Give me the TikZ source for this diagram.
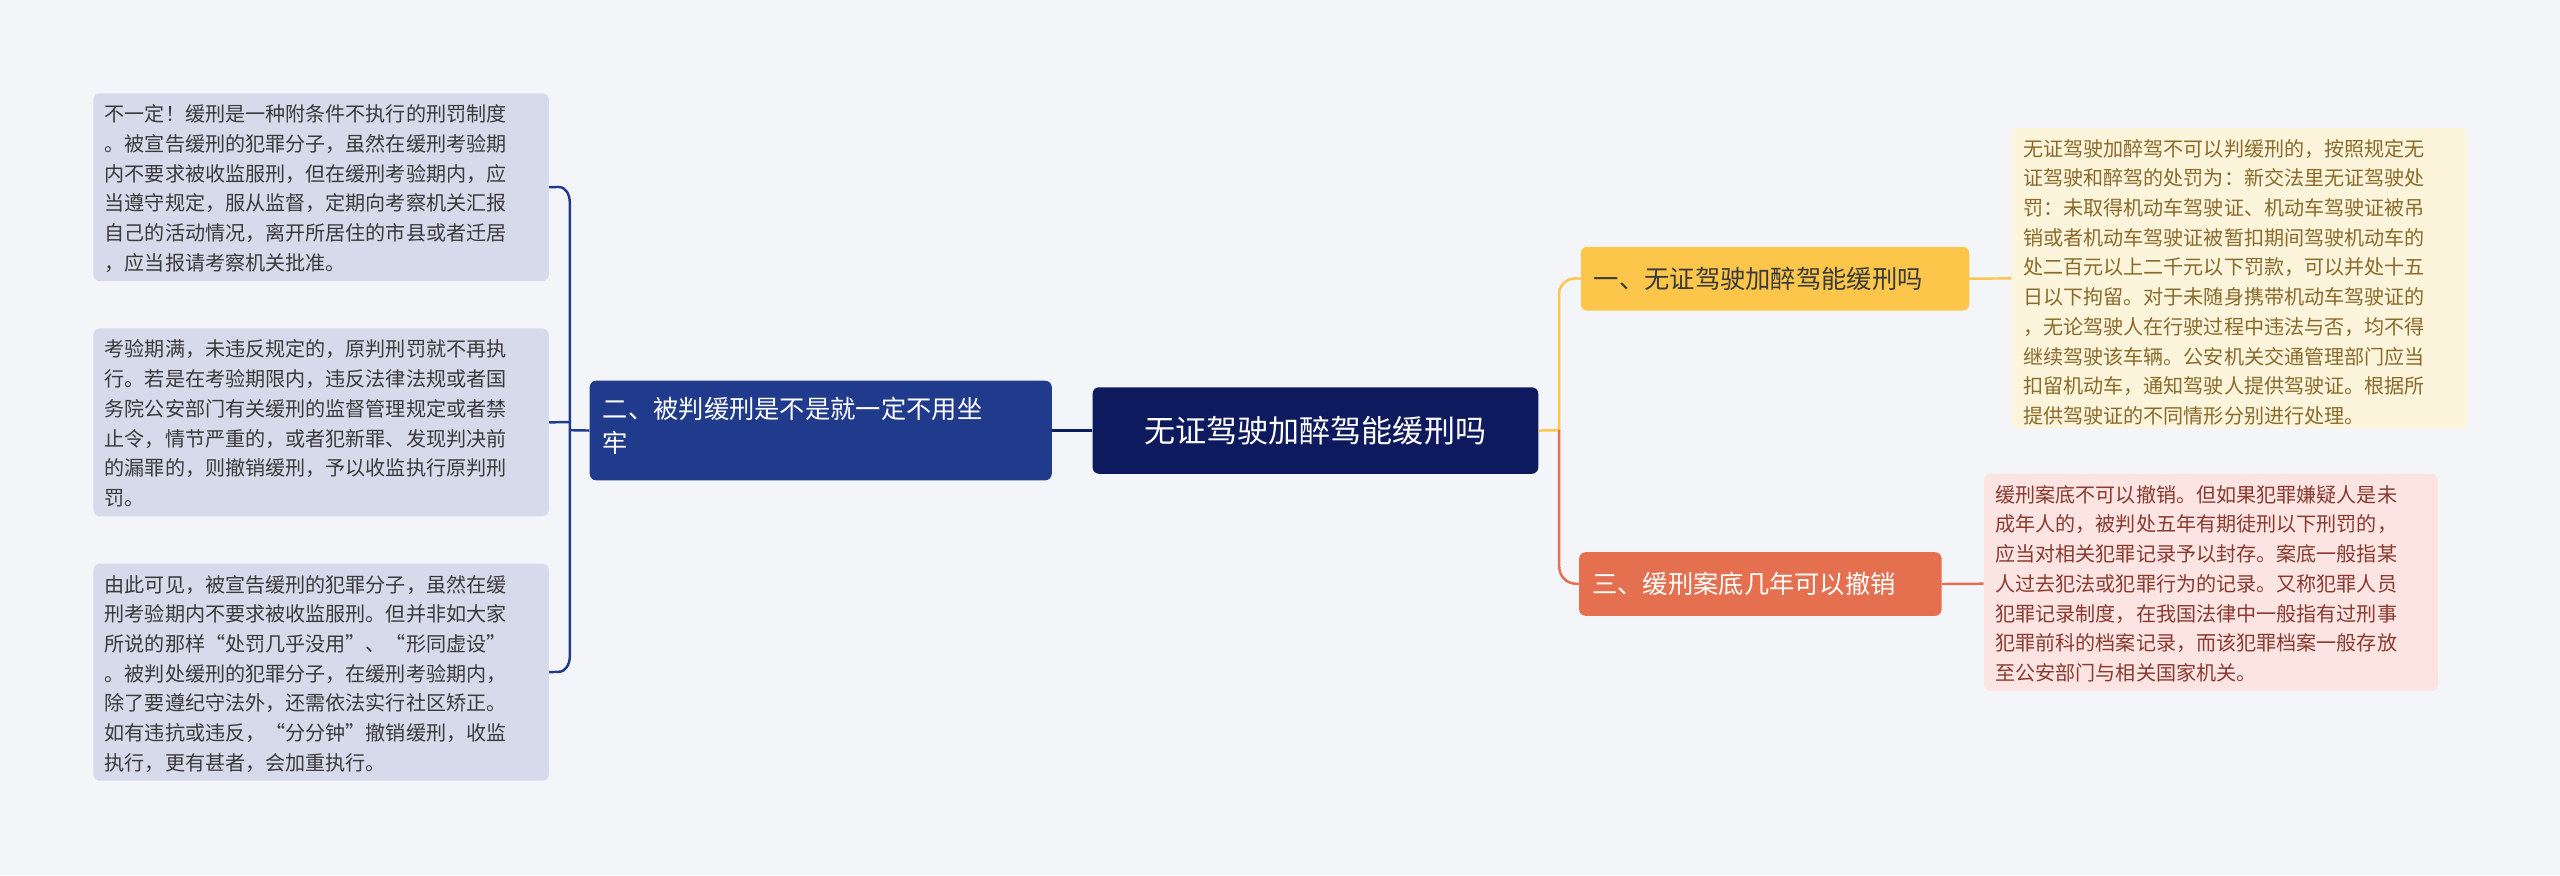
\documentclass[tikz,border=0pt]{standalone}
\usepackage{fontspec}
\setmainfont{Noto Sans CJK SC}
\begin{document}
\begin{tikzpicture}[x=1pt,y=-1pt,
  leaf/.style={rounded corners=4pt,anchor=north west,align=left,inner sep=0pt,font=\fontsize{12.3}{18.2}\selectfont},
  br/.style={rounded corners=4pt,anchor=north west,inner sep=0pt},
  con/.style={line width=1.5pt}]
\definecolor{bg}{HTML}{F4F5F9}
\definecolor{navy}{HTML}{0E1A5E}
\definecolor{blue2}{HTML}{213B8C}
\definecolor{lleaf}{HTML}{D6DAEB}
\definecolor{ltext}{HTML}{3A3A3A}
\definecolor{yel}{HTML}{FBC64A}
\definecolor{yleaf}{HTML}{FDF4DC}
\definecolor{ytext}{HTML}{8A6A2A}
\definecolor{red2}{HTML}{E4704F}
\definecolor{rleaf}{HTML}{FBE4E2}
\definecolor{rtext}{HTML}{8A3A30}
\fill[bg] (0,0) rectangle (1568,536);
\useasboundingbox (0,0) rectangle (1568,536);
% center
\node[br,fill=navy,minimum width=273pt,minimum height=53pt,text=white,font=\fontsize{19}{22}\selectfont] (c) at (669,237) {无证驾驶加醉驾能缓刑吗};
% left branch
\node[br,fill=blue2,minimum width=283pt,minimum height=61pt] (lb) at (361,233) {};
\node[anchor=north west,text=white,align=left,font=\fontsize{15.5}{21}\selectfont,inner sep=0pt] (lbt) at (369,243) {二、被判缓刑是不是就一定不用坐\\牢};
% left leaves
\node[leaf,fill=lleaf,minimum width=279pt,minimum height=115pt] (l1) at (57,57) {};
\node[leaf,anchor=north west,text=ltext] (l1t) at (64,64) {不一定！缓刑是一种附条件不执行的刑罚制度\\。被宣告缓刑的犯罪分子，虽然在缓刑考验期\\内不要求被收监服刑，但在缓刑考验期内，应\\当遵守规定，服从监督，定期向考察机关汇报\\自己的活动情况，离开所居住的市县或者迁居\\，应当报请考察机关批准。};
\node[leaf,fill=lleaf,minimum width=279pt,minimum height=115pt] (l2) at (57,201) {};
\node[leaf,text=ltext] (l2t) at (64,208) {考验期满，未违反规定的，原判刑罚就不再执\\行。若是在考验期限内，违反法律法规或者国\\务院公安部门有关缓刑的监督管理规定或者禁\\止令，情节严重的，或者犯新罪、发现判决前\\的漏罪的，则撤销缓刑，予以收监执行原判刑\\罚。};
\node[leaf,fill=lleaf,minimum width=279pt,minimum height=133pt] (l3) at (57,345) {};
\node[leaf,text=ltext] (l3t) at (64,352) {由此可见，被宣告缓刑的犯罪分子，虽然在缓\\刑考验期内不要求被收监服刑。但并非如大家\\所说的那样“处罚几乎没用”、“形同虚设”\\。被判处缓刑的犯罪分子，在缓刑考验期内，\\除了要遵纪守法外，还需依法实行社区矫正。\\如有违抗或违反，“分分钟”撤销缓刑，收监\\执行，更有甚者，会加重执行。};
% right branches
\node[br,fill=yel,minimum width=238pt,minimum height=39pt] (rb1) at (968,151) {};
\node[anchor=west,inner sep=0pt,text=ltext,font=\fontsize{15.5}{18}\selectfont] at (976,170.5) {一、无证驾驶加醉驾能缓刑吗};
\node[br,fill=red2,minimum width=222pt,minimum height=39pt] (rb2) at (967,338) {};
\node[anchor=west,inner sep=0pt,text=white,font=\fontsize{15.5}{18}\selectfont] at (975,357.5) {三、缓刑案底几年可以撤销};
% right leaves
\node[leaf,fill=yleaf,minimum width=279pt,minimum height=184pt] (r1) at (1232,78) {};
\node[leaf,text=ytext] at (1239,85) {无证驾驶加醉驾不可以判缓刑的，按照规定无\\证驾驶和醉驾的处罚为：新交法里无证驾驶处\\罚：未取得机动车驾驶证、机动车驾驶证被吊\\销或者机动车驾驶证被暂扣期间驾驶机动车的\\处二百元以上二千元以下罚款，可以并处十五\\日以下拘留。对于未随身携带机动车驾驶证的\\，无论驾驶人在行驶过程中违法与否，均不得\\继续驾驶该车辆。公安机关交通管理部门应当\\扣留机动车，通知驾驶人提供驾驶证。根据所\\提供驾驶证的不同情形分别进行处理。};
\node[leaf,fill=rleaf,minimum width=278pt,minimum height=133pt] (r2) at (1215,290) {};
\node[leaf,text=rtext] at (1222,297) {缓刑案底不可以撤销。但如果犯罪嫌疑人是未\\成年人的，被判处五年有期徒刑以下刑罚的，\\应当对相关犯罪记录予以封存。案底一般指某\\人过去犯法或犯罪行为的记录。又称犯罪人员\\犯罪记录制度，在我国法律中一般指有过刑事\\犯罪前科的档案记录，而该犯罪档案一般存放\\至公安部门与相关国家机关。};
% connectors
\draw[con,navy] (c.west) -- (lb.east);
\draw[con,blue2] (lb.west) -- (349,263.5);
\draw[con,blue2] (l1.east) -- (342,114.5) to[out=0,in=90] (349,124) -- (349,402) to[out=-90,in=0] (342,411.5) -- (l3.east);
\draw[con,blue2] (l2.east) -- (349,258.5);
\draw[con,yel] (c.east) -- (955,263.5) -- (955,180) to[out=90,in=180] (965,170.5) -- (rb1.west);
\draw[con,red2] (955,263.5) -- (955,347) to[out=-90,in=180] (965,357.5) -- (rb2.west);
\draw[con,yel] (rb1.east) -- (1232,170.5);
\draw[con,red2] (rb2.east) -- (1215,357.5);
\end{tikzpicture}
\end{document}
